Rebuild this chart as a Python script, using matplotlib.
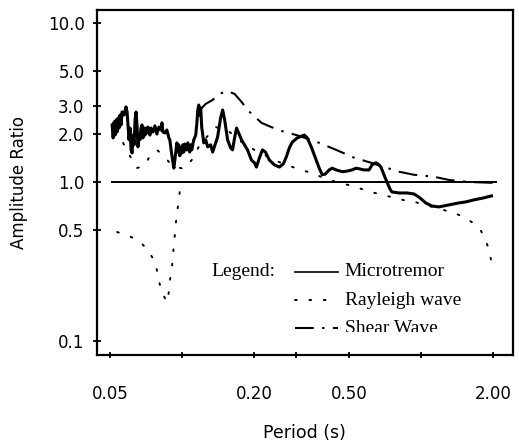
import matplotlib
matplotlib.use("Agg")
import matplotlib.pyplot as plt
from matplotlib.patches import Rectangle

# ---------------- data ----------------
micro_period = [0.0510, 0.0515, 0.0520, 0.0525, 0.0530, 0.0535, 0.0540, 0.0545, 0.0550, 0.0556,
                0.0561, 0.0572, 0.0583, 0.0589, 0.0594, 0.0600, 0.0606, 0.0612, 0.0618, 0.0624,
                0.0630, 0.0636, 0.0642, 0.0648, 0.0654, 0.0661, 0.0667, 0.0673, 0.0680, 0.0686,
                0.0693, 0.0700, 0.0706, 0.0713, 0.0720, 0.0734, 0.0741, 0.0755, 0.0770, 0.0785,
                0.0800, 0.0816, 0.0824, 0.0832, 0.0848, 0.0864, 0.0881, 0.0889, 0.0906, 0.0924,
                0.0933, 0.0951, 0.0960, 0.0969, 0.0979, 0.0988, 0.0998, 0.1007, 0.1017, 0.1027,
                0.1047, 0.1057, 0.1077, 0.1088, 0.1098, 0.1120, 0.1141, 0.1152, 0.1164, 0.1175,
                0.1186, 0.1197, 0.1209, 0.1233, 0.1256, 0.1280, 0.1318, 0.1343, 0.1383, 0.1409,
                0.1450, 0.1479, 0.1508, 0.1551, 0.1596, 0.1627, 0.1659, 0.1691, 0.1741, 0.1774,
                0.1826, 0.1879, 0.1953, 0.2009, 0.2048, 0.2109, 0.2170, 0.2233, 0.2321, 0.2435,
                0.2554, 0.2655, 0.2733, 0.2812, 0.2894, 0.3036, 0.3247, 0.3342, 0.3473, 0.3609,
                0.3750, 0.3859, 0.3972, 0.4127, 0.4247, 0.4415, 0.4676, 0.4905, 0.5146, 0.5348,
                0.5503, 0.5774, 0.6058, 0.6234, 0.6479, 0.6668, 0.6796, 0.6996, 0.7199, 0.7411,
                0.7553, 0.8079, 0.8724, 0.9329, 0.9787, 1.047, 1.109, 1.186, 1.305, 1.436,
                1.536, 1.659, 1.826, 1.971]
micro_ratio = [2.28, 1.89, 2.38, 1.97, 2.45, 2.06, 2.52, 2.18, 2.63, 2.28,
               2.75, 2.63, 2.96, 2.75, 2.28, 1.84, 2.18, 1.59, 1.52, 1.97,
               1.71, 2.45, 2.75, 2.28, 1.66, 1.97, 1.84, 2.18, 2.28, 1.89,
               2.18, 1.97, 2.18, 2.03, 2.21, 1.97, 2.18, 2.06, 2.25, 2.00,
               2.21, 2.12, 2.35, 2.06, 2.03, 2.12, 1.89, 1.84, 1.48, 1.22,
               1.37, 1.76, 1.54, 1.71, 1.46, 1.64, 1.52, 1.71, 1.54, 1.73,
               1.59, 1.76, 1.54, 1.71, 1.59, 1.84, 1.97, 2.28, 2.83, 3.04,
               2.63, 2.91, 2.21, 1.76, 1.84, 1.66, 1.71, 1.54, 1.76, 1.92,
               2.52, 2.83, 2.45, 1.84, 1.64, 1.59, 1.89, 2.18, 1.97, 1.84,
               1.71, 1.59, 1.37, 1.32, 1.24, 1.42, 1.59, 1.54, 1.37, 1.28,
               1.24, 1.30, 1.44, 1.64, 1.78, 1.89, 1.97, 1.89, 1.66, 1.42,
               1.22, 1.11, 1.12, 1.19, 1.22, 1.19, 1.16, 1.17, 1.19, 1.22,
               1.21, 1.19, 1.19, 1.28, 1.32, 1.28, 1.24, 1.11, 1.00, 0.904,
               0.866, 0.853, 0.853, 0.841, 0.805, 0.738, 0.707, 0.697, 0.717, 0.738,
               0.749, 0.771, 0.794, 0.817]

rayleigh_low_period = [0.0535, 0.0600, 0.0661, 0.0713, 0.0763, 0.0785, 0.0800, 0.0824, 0.0864,
                       0.0881, 0.0889, 0.0906, 0.0915, 0.0924, 0.0942, 0.0951, 0.0969, 0.0979, 0.0998]
rayleigh_low_ratio = [0.485, 0.458, 0.426, 0.380, 0.324, 0.280, 0.239, 0.204, 0.176,
                      0.204, 0.239, 0.284, 0.333, 0.400, 0.545, 0.639, 0.749, 0.878, 1.0]

rayleigh_period = [0.0567, 0.0594, 0.0624, 0.0648, 0.0673, 0.0700, 0.0734, 0.0785, 0.0832, 0.0889,
                   0.0951, 0.1017, 0.1098, 0.1186, 0.1383, 0.1581, 0.1774, 0.2009, 0.2482, 0.2733,
                   0.3065, 0.3473, 0.4127, 0.5348, 0.5942, 0.7481, 0.8393, 0.9418, 1.330, 1.479,
                   1.627, 1.774, 1.861, 1.934, 1.971]
rayleigh_ratio = [1.757, 1.521, 1.355, 1.224, 1.242, 1.279, 1.456, 1.588, 1.477, 1.316,
                  1.242, 1.207, 1.374, 1.707, 2.214, 2.060, 1.783, 1.588, 1.355, 1.279,
                  1.207, 1.139, 1.029, 0.930, 0.878, 0.805, 0.771, 0.749, 0.648, 0.612,
                  0.561, 0.500, 0.432, 0.369, 0.310]

shear_period = [0.1186, 0.1256, 0.1343, 0.1409, 0.1536, 0.1659, 0.1774, 0.1879, 0.2150, 0.2366,
                0.2604, 0.3007, 0.3678, 0.4415, 0.5245, 0.6174, 0.8079, 0.9329, 1.130, 1.305,
                1.581, 2.048]
shear_ratio = [2.83, 3.09, 3.27, 3.52, 3.73, 3.57, 3.18, 2.83, 2.35, 2.21,
               2.09, 1.97, 1.78, 1.59, 1.42, 1.32, 1.16, 1.11, 1.08, 1.03,
               1.00, 0.986]

unity_period = [0.0505, 2.07]
unity_ratio = [1.0, 1.0]

x_ticks = [0.05, 0.1, 0.2, 0.3, 0.5, 1.0, 2.0]
x_tick_labels = ["0.05", "", "0.20", "", "0.50", "", "2.00"]
y_ticks = [0.1, 0.5, 1.0, 2.0, 3.0, 5.0, 10.0]
y_tick_labels = ["0.1", "0.5", "1.0", "2.0", "3.0", "5.0", "10.0"]
legend_labels = ["Microtremor", "Rayleigh wave", "Shear Wave"]

# ---------------- figure ----------------
fig = plt.figure(figsize=(5.19, 4.48), dpi=100)
ax = fig.add_axes([0.187, 0.2076, 0.801, 0.770])
ax.set_xscale("log")
ax.set_yscale("log")
ax.set_xlim(0.0441, 2.42)
ax.set_ylim(0.082, 12.0)

ax.plot(unity_period, unity_ratio, color="black", lw=1.4, solid_capstyle="butt")
ax.plot(micro_period, micro_ratio, color="black", lw=2.2, solid_joinstyle="round")
dot_style = dict(color="black", lw=1.4, linestyle=(0, (0.9, 6.5)), dash_capstyle="round")
ax.plot(rayleigh_low_period, rayleigh_low_ratio, **dot_style)
ax.plot(rayleigh_period, rayleigh_ratio, **dot_style)
shear_style = dict(color="black", lw=1.5, linestyle=(0, (9, 4, 1.2, 4)))
ax.plot(shear_period, shear_ratio, **shear_style)

ax.xaxis.set_minor_locator(matplotlib.ticker.NullLocator())
ax.yaxis.set_minor_locator(matplotlib.ticker.NullLocator())
ax.set_xticks(x_ticks)
ax.set_xticklabels(x_tick_labels)
ax.set_yticks(y_ticks)
ax.set_yticklabels(y_tick_labels)
ax.tick_params(axis="x", direction="inout", length=5, width=1.3, pad=19, labelsize=12)
ax.tick_params(axis="y", direction="inout", length=6, width=1.3, pad=6, labelsize=12)
for s in ax.spines.values():
    s.set_linewidth(1.6)

ax.set_xlabel("Period (s)", fontsize=12.5, va="center")
ax.set_ylabel("Amplitude Ratio", fontsize=12, va="center")
ax.xaxis.set_label_coords(0.5, -0.226)
ax.yaxis.set_label_coords(-0.1875, 0.5)

# ---------------- in-plot legend (clipped at its lower edge like the scan) ----------------
clip = Rectangle((0.0, 0.066), 1.0, 1.0, transform=ax.transAxes)
serif = ["Liberation Serif", "DejaVu Serif"]
ax.text(0.276, 0.241, "Legend:", transform=ax.transAxes, fontsize=14, family=serif,
        ha="left", va="center")
rows = [0.241, 0.159, 0.078]
styles = [dict(color="black", lw=1.2), dict(dot_style), dict(shear_style)]
for yrow, lab, st in zip(rows, legend_labels, styles):
    ln, = ax.plot([0.476, 0.579], [yrow, yrow], transform=ax.transAxes, **st)
    t = ax.text(0.596, yrow, lab, transform=ax.transAxes, fontsize=14, family=serif,
                ha="left", va="center", clip_on=True)
    t.set_clip_path(clip)

fig.savefig("out.png", dpi=100)
